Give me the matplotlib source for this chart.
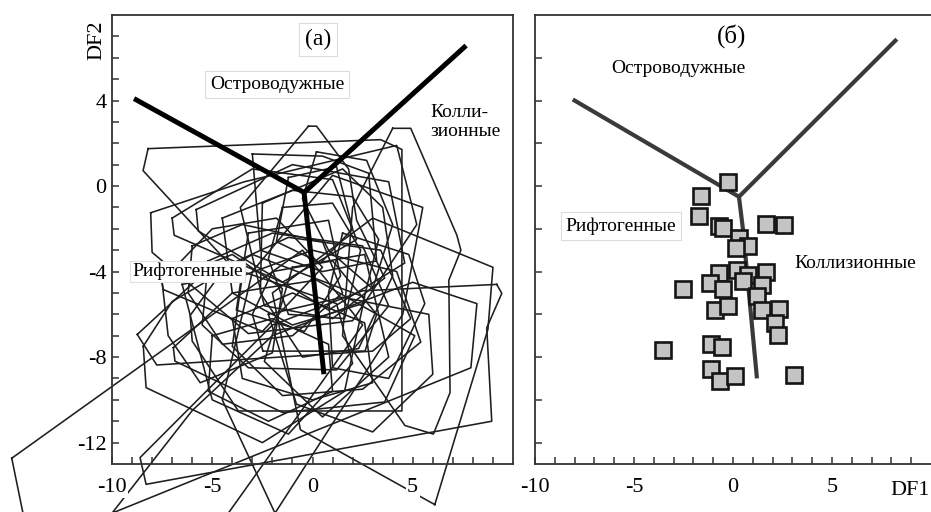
# -*- coding: utf-8 -*-
# дискриминантная диаграмма DF1-DF2: (а) поля составов, (б) точки проб
import matplotlib
matplotlib.use('Agg')
from matplotlib import pyplot as plt

plt.rcParams['font.family'] = ['Liberation Serif', 'DejaVu Serif']
plt.rcParams['axes.unicode_minus'] = False

# границы полей на панели (а): левая ветвь, правая ветвь, нижняя ветвь
bound_a_x = [-8.9, -0.42, 7.66]
bound_a_y = [4.09, -0.3, 6.57]
bound_a_low_x = [-0.42, 0.57]
bound_a_low_y = [-0.3, -8.8]

# те же границы на панели (б)
bound_b_x = [-8.0, 0.3, 8.2]
bound_b_y = [4.0, -0.5, 6.8]
bound_b_low_x = [0.3, 0.5, 1.2]
bound_b_low_y = [-0.5, -2.0, -8.9]

# контуры полей составов (панель а), вершины DF1, DF2
fields = [
    [(-8.2, 1.75), (3.4, 2.17), (4.46, 1.71), (4.46, -10.52), (-3.7, -10.52), (-6.0, -7.25), (-6.1, -6.05), (-4.2, -3.6), (-8.45, 0.72)],
    [(-0.2, 2.8), (0.2, 2.8), (1.8, 0.8), (2.2, -1.6), (3.6, -4.3), (1.0, -6.2), (-2.4, -5.6), (-3.6, -1.0)],
    [(-8.07, -1.25), (-3.4, 0.2), (4.2, 1.9), (5.2, -1.8), (2.0, -6.3), (-3.2, -6.9), (-8.0, -3.1)],
    [(-8.74, -6.94), (-7.77, -8.37), (3.0, -7.72), (4.9, -6.2), (3.4, -3.0), (-1.2, -2.4), (-5.8, -4.4)],
    [(-8.44, -7.49), (-8.3, -9.43), (-2.5, -12.0), (1.6, -9.6), (2.6, -5.2), (-3.0, -3.2), (-7.0, -5.4)],
    [(-6.94, -7.56), (-6.86, -8.19), (-1.47, -10.6), (3.6, -10.1), (5.1, -7.0), (0.2, -4.4), (-4.0, -5.0)],
    [(9.19, -4.6), (9.44, -5.02), (8.69, -6.63), (8.94, -11.0), (-8.3, -13.95), (-8.6, -12.7), (-2.0, -6.5), (2.5, -4.9)],
    [(4.0, 2.7), (4.9, 2.7), (7.2, -2.3), (7.4, -3.0), (6.8, -4.4), (6.86, -9.66), (6.03, -11.6), (4.61, -11.2), (1.5, -7.0), (2.0, -1.0)],
    [(-15.0, -12.73), (-0.5, -3.0), (2.5, -6.5), (-4.2, -15.3), (-14.44, -15.3)],
    [(6.1, -14.9), (8.75, -6.7), (9.0, -3.8), (3.0, -1.5), (-2.0, -5.0), (-0.6, -11.4)],
    [(-1.87, -15.3), (4.5, -6.0), (5.5, -1.0), (1.0, 0.5), (-3.0, -4.0), (-4.5, -10.0)],
    [(-10.0, -15.3), (7.9, -8.5), (8.2, -5.5), (5.0, -4.5), (-2.0, -7.0), (-6.0, -10.5)],
    [(-4.5, -1.5), (-1.0, -0.2), (2.0, -0.5), (3.3, -2.5), (2.5, -5.5), (-1.0, -6.5), (-4.0, -5.0)],
    [(-3.0, 1.5), (0.5, 1.4), (2.8, 0.6), (3.2, -3.5), (0.5, -4.0), (-2.6, -3.0)],
    [(-6.0, -2.8), (-3.5, -1.8), (0.5, -2.6), (1.5, -5.0), (-1.0, -7.0), (-4.5, -7.4), (-6.2, -5.0)],
    [(-2.5, -0.8), (1.5, 0.8), (3.5, -1.0), (4.0, -4.2), (2.3, -7.6), (-0.5, -8.0), (-2.6, -5.0)],
    [(-5.2, -3.5), (-2.0, -2.2), (2.5, -2.8), (3.8, -5.6), (1.2, -8.6), (-3.2, -8.5), (-5.5, -6.5)],
    [(-1.5, -1.0), (1.0, -0.8), (2.4, -3.0), (1.6, -6.2), (-1.2, -6.0), (-2.2, -3.4)],
    [(-3.5, -4.2), (0.0, -3.0), (4.2, -4.0), (5.4, -7.3), (2.5, -9.5), (-1.5, -9.8), (-4.0, -7.5)],
    [(-6.5, -4.6), (-3.5, -4.0), (1.2, -5.5), (2.0, -8.3), (-1.2, -11.6), (-5.0, -10.0)],
    [(0.2, 1.6), (2.7, 1.2), (4.0, -1.8), (3.0, -4.8), (0.8, -3.0), (-0.5, -0.6)],
    [(-2.2, -6.0), (1.5, -5.2), (5.8, -6.0), (6.0, -8.8), (3.0, -11.5), (-0.8, -10.2)],
    [(-7.5, -4.5), (-4.0, -3.2), (-1.5, -4.8), (-2.0, -7.8), (-5.6, -9.2), (-7.2, -7.0)],
    [(-1.0, -3.8), (2.6, -3.2), (3.8, -8.0), (0.5, -10.8), (-2.4, -8.2)],
    [(-2.47, -7.72), (2.62, -7.72), (3.2, -6.0), (1.0, -3.5), (-2.0, -4.0), (-3.0, -6.0)],
    [(-7.0, -1.5), (-3.0, 0.8), (1.0, 0.3), (2.2, -2.5), (-1.5, -4.5), (-6.9, -2.3)],
    [(-5.8, -1.1), (-1.0, 1.0), (3.8, 0.2), (4.6, -3.6), (0.8, -5.8), (-5.7, -2.1)],
    [(-7.52, -4.45), (-5.0, -2.0), (-1.8, -1.5), (0.5, -3.8), (-2.5, -6.8), (-7.44, -4.84)],
    [(-4.0, -6.2), (-1.0, -5.0), (2.6, -6.4), (3.0, -9.2), (0.0, -10.0), (-3.5, -9.0)],
    [(-1.2, 0.4), (1.2, 0.9), (2.0, -2.0), (0.4, -3.6), (-1.8, -2.6)],
    [(-3.2, -2.2), (0.8, -1.6), (1.4, -4.2), (-0.4, -6.8), (-3.8, -5.8)],
    [(1.5, -2.2), (4.8, -3.2), (5.6, -5.5), (3.8, -9.0), (1.0, -8.5), (0.8, -5.0)],
    [(-5.0, -7.0), (-2.0, -6.2), (0.8, -7.4), (1.0, -9.6), (-2.2, -11.0), (-5.2, -9.6)],
]

# пробы (панель б)
df1 = [-0.24, -1.63, -1.72, -0.71, -0.49, 1.67, 2.59, 0.3, 0.77, 0.15,
       -0.69, 0.18, 0.77, 1.67, -1.16, -0.52, -2.51, 0.52, 1.45, 1.2,
       -0.91, -0.24, 1.45, 2.34, 2.12, 2.29, -3.52, -1.11, -0.57, -1.11,
       -0.66, 0.1, 3.08]
df2 = [0.17, -0.48, -1.39, -1.85, -1.96, -1.76, -1.84, -2.43, -2.82, -2.9,
       -4.07, -3.94, -4.14, -4.03, -4.53, -4.81, -4.81, -4.45, -4.61, -5.16,
       -5.78, -5.59, -5.81, -5.75, -6.4, -6.95, -7.65, -7.41, -7.54, -8.55,
       -9.13, -8.89, -8.85]

xtick_pos = [-10, -5, 0, 5]
xtick_lab = ['-10', '-5', '0', '5']
ytick_pos = [-12, -8, -4, 0, 4]
ytick_lab = ['-12', '-8', '-4', '0', '4']

box = dict(boxstyle='square,pad=0.25', fc='white', ec='#dcdcdc', lw=0.8)
FS_TICK = 16
FS_TXT = 14


def style_axes(ax):
    for s in ax.spines.values():
        s.set_linewidth(1.3)
        s.set_color('#333333')
    ax.tick_params(which='both', direction='in', length=5, width=1.1, color='#333333',
                   labelsize=FS_TICK, top=False, right=False)
    ax.set_xlim(-10, 10)
    ax.set_ylim(-13, 8)
    ax.set_xticks(range(-9, 10), minor=True)
    ax.set_xticks(xtick_pos)
    ax.set_xticklabels(xtick_lab)
    ax.tick_params(axis='x', which='both', pad=10)
    for lab in ax.get_xticklabels():
        lab.set_bbox(dict(fc='white', ec='none', pad=1))


fig = plt.figure(figsize=(9.31, 5.12), dpi=100)

# ---- (а) ----
ax1 = fig.add_axes([112 / 931, 48 / 512, 401 / 931, 449 / 512])
style_axes(ax1)
ax1.set_yticks(range(-12, 8), minor=True)
ax1.set_yticks(ytick_pos)
ax1.set_yticklabels(ytick_lab)
ax1.tick_params(axis='y', which='both', pad=4)
for lab in ax1.get_yticklabels():
    lab.set_bbox(dict(fc='white', ec='none', pad=1))

for f in fields:
    xs = [p[0] for p in f] + [f[0][0]]
    ys = [p[1] for p in f] + [f[0][1]]
    ax1.plot(xs, ys, color='#1e1e1e', lw=1.15, clip_on=False, zorder=1)

ax1.plot(bound_a_x, bound_a_y, color='black', lw=3.6, solid_capstyle='butt', zorder=3)
ax1.plot(bound_a_low_x, bound_a_low_y, color='black', lw=3.6, solid_capstyle='butt', zorder=3)

ax1.text(0.27, 6.85, '(а)', fontsize=17, ha='center', va='center', bbox=box, zorder=5)
ax1.text(-1.77, 4.74, 'Островодужные', fontsize=FS_TXT, ha='center', va='center', bbox=box, zorder=5)
ax1.text(5.86, 3.0, 'Колли-\nзионные', fontsize=FS_TXT, ha='left', va='center',
         linespacing=1.15, bbox=dict(boxstyle='square,pad=0.15', fc='white', ec='none'), zorder=5)
ax1.text(-9.0, -4.0, 'Рифтогенные', fontsize=FS_TXT, ha='left', va='center',
         bbox=dict(boxstyle='square,pad=0.1', fc='white', ec='#e0e0e0', lw=0.8), zorder=5)

ax1.set_ylabel('DF2', fontsize=FS_TICK)
ax1.yaxis.label.set_verticalalignment('center')
ax1.yaxis.set_label_coords(-0.037, 0.944)

# ---- (б) ----
ax2 = fig.add_axes([535 / 931, 48 / 512, 396 / 931, 449 / 512])
style_axes(ax2)
ax2.spines['right'].set_visible(False)
ax2.set_yticks(range(-12, 8, 2))
ax2.set_yticklabels([])

ax2.plot(bound_b_x, bound_b_y, color='#3a3a3a', lw=3.0, zorder=2)
ax2.plot(bound_b_low_x, bound_b_low_y, color='#3a3a3a', lw=3.0, zorder=2)
ax2.plot(df1, df2, 's', ms=12, mfc='#c4c4c4', mec='#151515', mew=1.9, ls='none', zorder=3)

ax2.text(-0.07, 7.0, '(б)', fontsize=18, ha='center', va='center')
ax2.text(-2.78, 5.5, 'Островодужные', fontsize=FS_TXT, ha='center', va='center')
ax2.text(-5.66, -1.87, 'Рифтогенные', fontsize=FS_TXT, ha='center', va='center', bbox=box, zorder=5)
ax2.text(6.16, -3.6, 'Коллизионные', fontsize=FS_TXT, ha='center', va='center')

ax2.set_xlabel('DF1', fontsize=FS_TICK)
ax2.xaxis.label.set_verticalalignment('center')
ax2.xaxis.set_label_coords(0.947, -0.06)

fig.savefig('out.png', dpi=100)
